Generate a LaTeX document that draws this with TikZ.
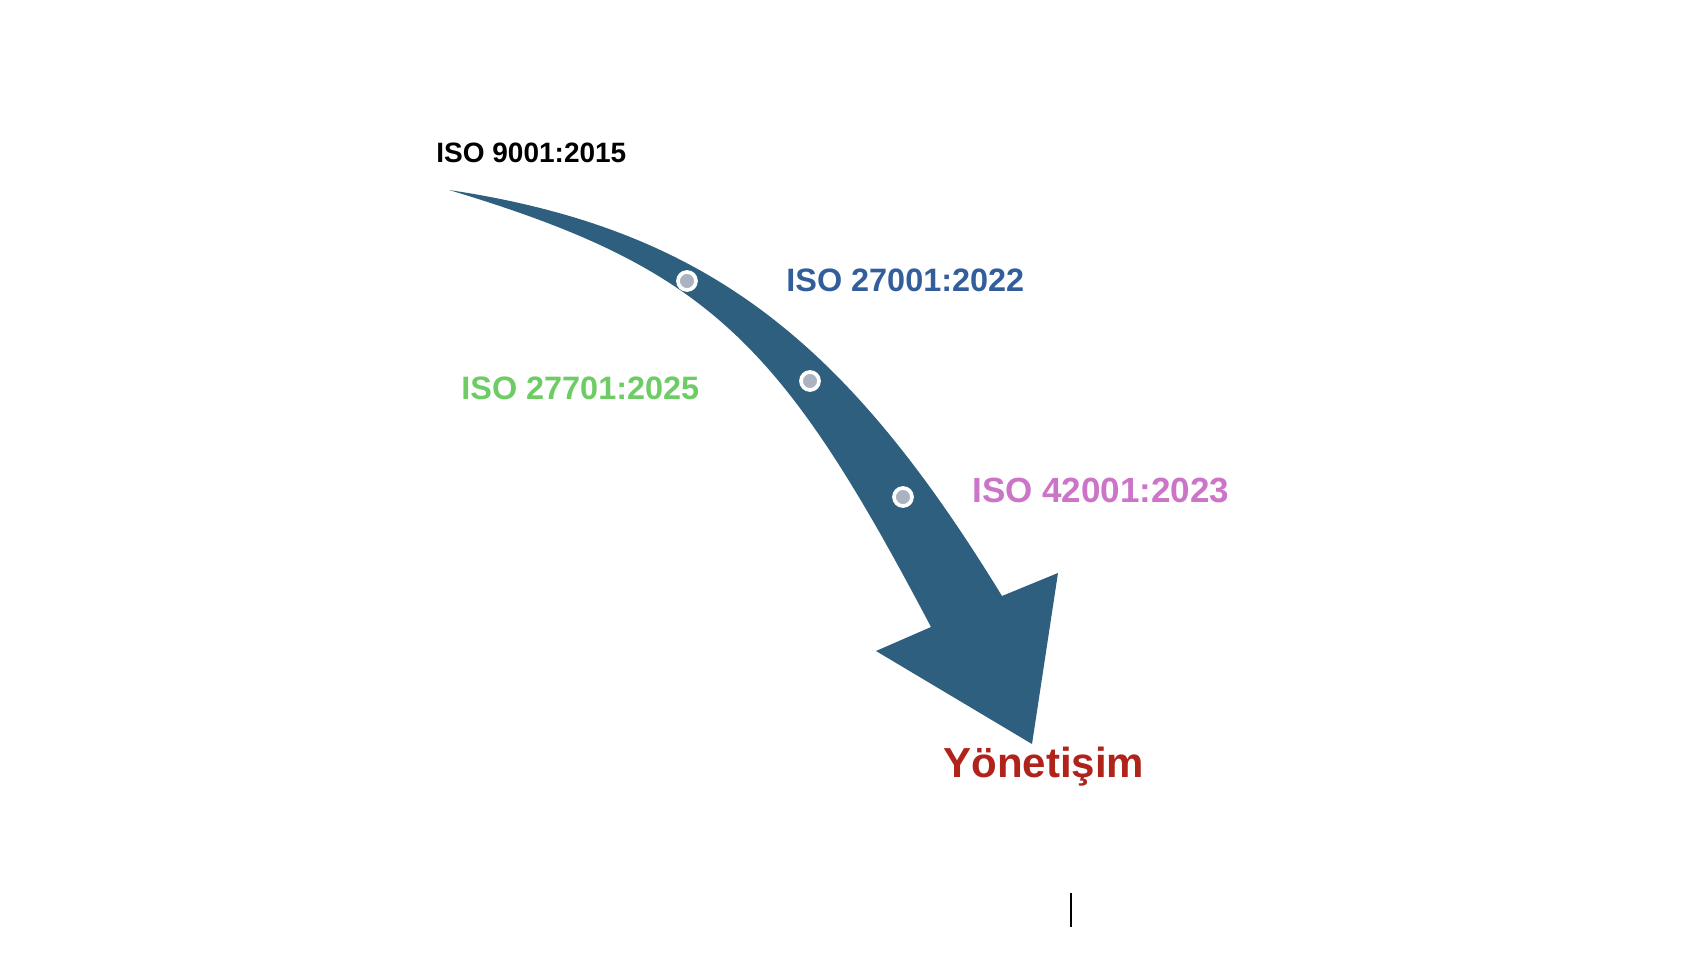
\documentclass[tikz,border=0pt]{standalone}
\usepackage{fontspec}
\setmainfont{Liberation Sans}
\definecolor{arrowblue}{HTML}{2E5F7E}
\definecolor{dotgray}{HTML}{AAB3BF}
\definecolor{isoblue}{HTML}{325F9C}
\definecolor{isogreen}{HTML}{6DCC63}
\definecolor{isopink}{HTML}{CB74C8}
\definecolor{govred}{HTML}{B0231A}
\begin{document}
\begin{tikzpicture}[x=0.5pt,y=-0.5pt,
  lbl/.style={anchor=base west, inner sep=0pt, font=\bfseries\fontsize{#1}{#1}\selectfont},
  dotmark/.style={circle, fill=dotgray, draw=white, line width=1.85pt, minimum size=9pt, inner sep=0pt}]
\useasboundingbox (0,0) rectangle (1698,956);
\fill[white] (0,0) rectangle (1698,956);
% curved arrow
\fill[arrowblue] (449,190) .. controls (709,229) and (847,343) .. (1002,596)
  -- (1058,573) -- (1032,744) -- (876,651) -- (931,627)
  .. controls (781,342) and (709,268) .. (449,190) -- cycle;
% dots
\node[dotmark] (d1) at (687,281) {};
\node[dotmark] (d2) at (810,381) {};
\node[dotmark] (d3) at (903,497) {};
% labels
\node[lbl=14, text=black] (t9001) at (436,163) {ISO 9001:2015};
\node[lbl=16.2, text=isoblue] (t27001) at (786,292) {ISO 27001:2022};
\node[lbl=16.2, text=isogreen] (t27701) at (461,400) {ISO 27701:2025};
\node[lbl=17.5, text=isopink] (t42001) at (972,503) {ISO 42001:2023};
\node[lbl=21, text=govred] (gov) at (943,777) {Yönetişim};
% text cursor
\coordinate (c1) at (1071,893);
\coordinate (c2) at (1071,927);
\draw[line width=1pt] (c1) -- (c2);
\end{tikzpicture}
\end{document}
